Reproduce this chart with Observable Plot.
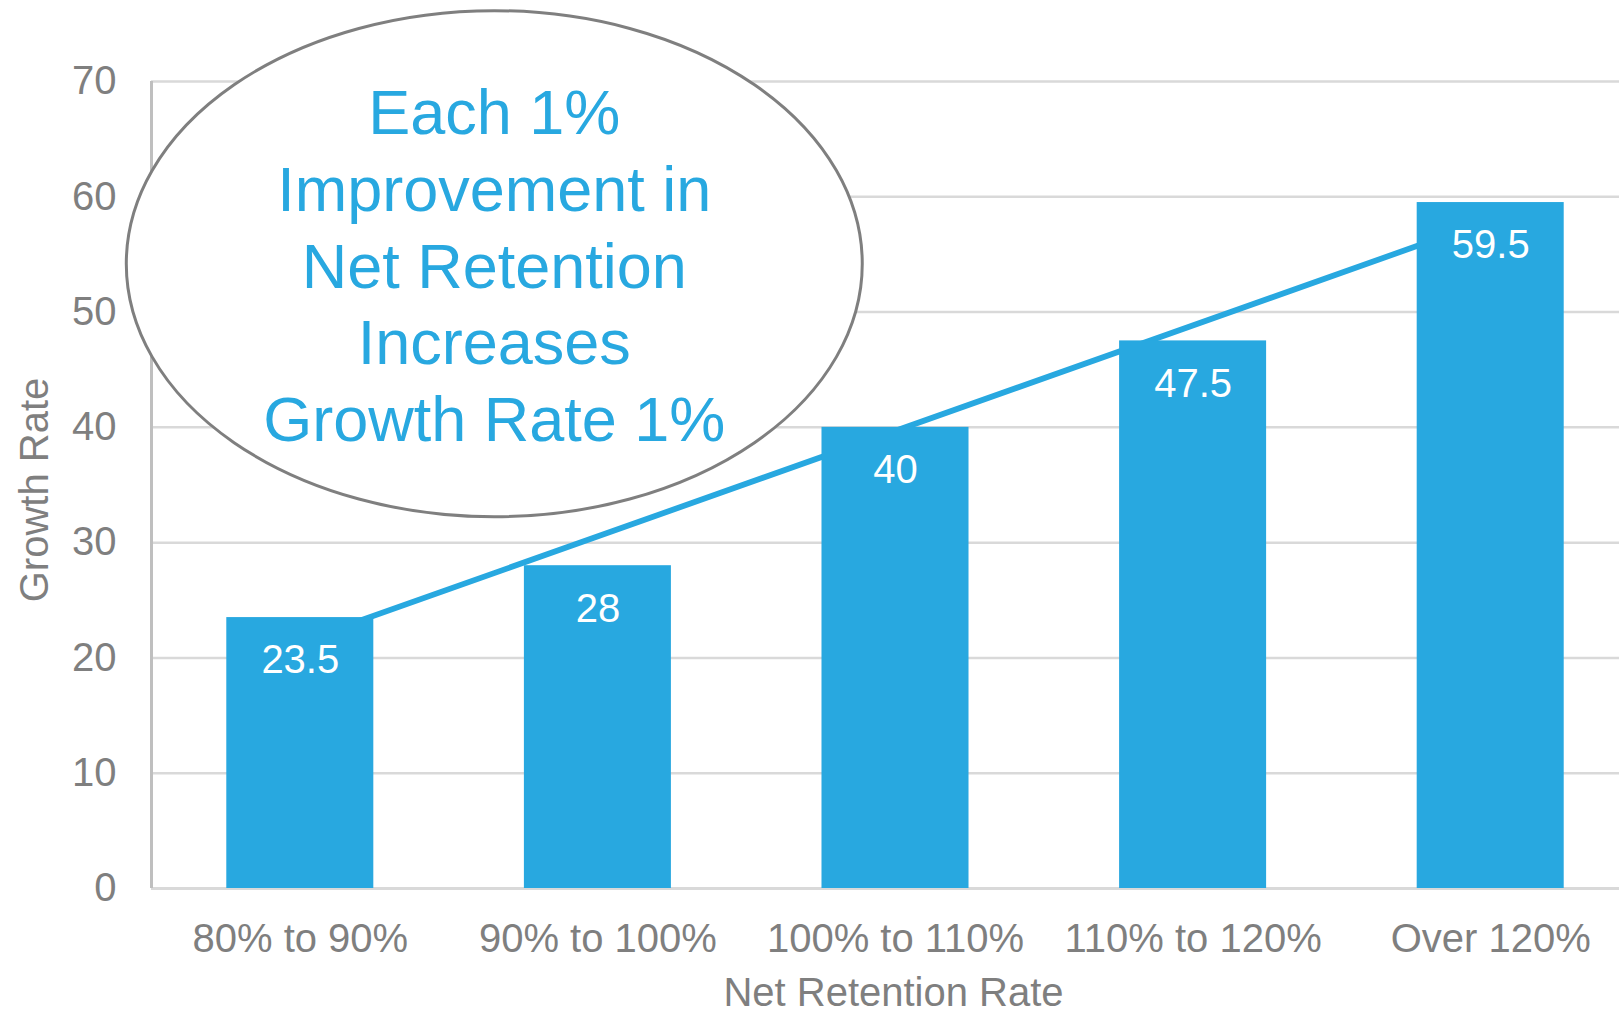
<!DOCTYPE html>
<html>
<head>
<meta charset="utf-8">
<script src="https://cdn.jsdelivr.net/npm/d3@7"></script>
<script src="https://cdn.jsdelivr.net/npm/@observablehq/plot@0.6"></script>
<style>
  html, body { margin: 0; padding: 0; background: #fff; }
  #chart svg { display: block; }
</style>
</head>
<body>
<div id="chart"></div>
<script>
// ---- data ----
const categories = ["80% to 90%", "90% to 100%", "100% to 110%", "110% to 120%", "Over 120%"];
const growthRates = [23.5, 28, 40, 47.5, 59.5];
const yTicks = [0, 10, 20, 30, 40, 50, 60, 70];
const noteLines = ["Each 1%", "Improvement in", "Net Retention", "Increases", "Growth Rate 1%"];
const xTitle = "Net Retention Rate";
const yTitle = "Growth Rate";

// ---- styles ----
const BLUE = "#28a8e0";
const GRAY = "#7f7f7f";
const FONT = "'Liberation Sans', Arial, sans-serif";

const data = categories.map((c, i) => ({i, category: c, value: growthRates[i]}));
const gridTicks = yTicks.filter(t => t > 0);

const chart = Plot.plot({
  width: 1619,
  height: 1014,
  marginTop: 81,
  marginBottom: 126,
  marginLeft: 151,
  marginRight: 0,
  style: {fontFamily: FONT, color: GRAY, background: "#fff", overflow: "visible"},
  x: {type: "linear", domain: [-0.5, 4.5], range: [151, 1639]},
  y: {domain: [0, 70]},
  marks: [
    Plot.ruleY(gridTicks, {stroke: "#d9d9d9", strokeWidth: 2.5}),
    Plot.ruleY([0], {stroke: "#d9d9d9", strokeWidth: 3}),
    Plot.ruleX([-0.5], {y1: 0, y2: 70, stroke: "#bfbfbf", strokeWidth: 3}),
    Plot.linearRegressionY(data, {x: "i", y: "value", stroke: BLUE, strokeWidth: 5.8, ci: 0}),
    Plot.rectY(data, {x1: d => d.i - 0.247, x2: d => d.i + 0.247, y: "value", fill: BLUE}),
    Plot.text(data, {x: "i", y: "value", text: d => String(d.value), dy: 43, fill: "#fff", fontSize: 40, textAnchor: "middle"}),
    Plot.axisY({ticks: yTicks, tickSize: 0, tickPadding: 35, fontSize: 40, label: null, fill: GRAY}),
    Plot.axisX({ticks: data.map(d => d.i), tickFormat: i => categories[i], tickSize: 0, tickPadding: 35, fontSize: 40, label: null, fill: GRAY}),
    Plot.text([xTitle], {frameAnchor: "bottom", textAnchor: "middle", lineAnchor: "bottom", dx: 8, dy: 117, fontSize: 40, fill: GRAY}),
    Plot.text([yTitle], {frameAnchor: "left", textAnchor: "middle", lineAnchor: "bottom", rotate: -90, dx: -104, dy: 5, fontSize: 40, fill: GRAY})
  ]
});

// ---- callout ellipse (annotation) ----
const sx = chart.scale("x"), sy = chart.scale("y");
const noteXSpan = [-0.583, 1.89];   // in category-index units
const noteYSpan = [32.2, 76.1];     // in growth-rate units
const ex0 = sx.apply(noteXSpan[0]), ex1 = sx.apply(noteXSpan[1]);
const ey0 = sy.apply(noteYSpan[1]), ey1 = sy.apply(noteYSpan[0]);
const cx = (ex0 + ex1) / 2, cy = (ey0 + ey1) / 2;
const svg = d3.select(chart);
const g = svg.append("g");
g.append("ellipse")
  .attr("cx", cx).attr("cy", cy)
  .attr("rx", (ex1 - ex0) / 2).attr("ry", (ey1 - ey0) / 2)
  .attr("fill", "#fff").attr("stroke", GRAY).attr("stroke-width", 3);
const lineGap = 76.75;
g.selectAll("text.note").data(noteLines).join("text")
  .attr("class", "note")
  .attr("x", cx)
  .attr("y", (d, k) => cy + 24 + (k - 2) * lineGap)
  .attr("text-anchor", "middle")
  .attr("font-family", FONT)
  .attr("font-size", 63)
  .attr("fill", BLUE)
  .text(d => d);

document.getElementById("chart").appendChild(chart);
</script>
</body>
</html>
